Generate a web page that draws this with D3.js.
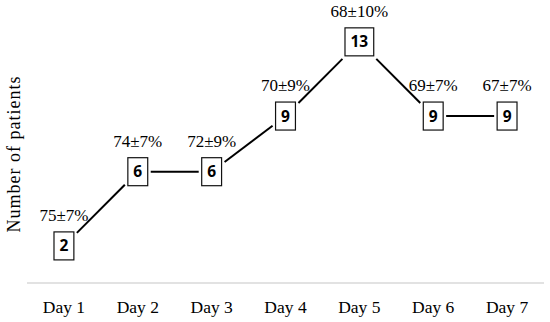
<html>
<head>
<style>
  body { margin: 0; background: #fff; }
  svg { display: block; }
</style>
<script src="https://d3js.org/d3.v7.min.js"></script>
</head>
<body>
<svg id="chart" width="550" height="322"></svg>
<script>
  // data
  const days = ["Day 1", "Day 2", "Day 3", "Day 4", "Day 5", "Day 6", "Day 7"];
  const patients = [2, 6, 6, 9, 13, 9, 9];
  const survival = ["75±7%", "74±7%", "72±9%", "70±9%", "68±10%", "69±7%", "67±7%"];

  const svg = d3.select('#chart');
  const serif = '"Liberation Serif", "Times New Roman", serif';

  const x = d3.scaleBand().domain(days).range([27, 544]);
  const y = d3.scaleLinear().domain([0, 14]).range([283, 283 - 14 * 18.55]);
  const cx = d => x(d) + x.bandwidth() / 2;

  // baseline
  svg.append('line')
    .attr('x1', 27).attr('x2', 544)
    .attr('y1', y(0)).attr('y2', y(0))
    .style('stroke', '#d9d9d9').style('stroke-width', 1.5);

  // category labels
  svg.selectAll('text.day')
    .data(days).enter().append('text')
    .attr('class', 'day')
    .attr('x', d => cx(d))
    .attr('y', 313)
    .attr('text-anchor', 'middle')
    .style('font-family', serif).style('font-size', '17.5px').style('fill', '#000')
    .text(d => d);

  // y axis title
  svg.append('text')
    .attr('transform', 'translate(20,154) rotate(-90)')
    .attr('text-anchor', 'middle')
    .style('font-family', serif).style('font-size', '18px').style('letter-spacing', '1px')
    .text('Number of patients');

  const pts = days.map((d, i) => ({ day: d, n: patients[i], lab: survival[i], x: cx(d), y: y(patients[i]) }));

  // box labels first so their widths are known
  const g = svg.append('g');
  const boxes = g.selectAll('g.pt').data(pts).enter().append('g').attr('class', 'pt');
  const rects = boxes.append('rect');
  const nums = boxes.append('text')
    .attr('x', d => d.x)
    .attr('y', d => d.y + 5.5)
    .attr('text-anchor', 'middle')
    .style('font-family', '"Open Sans", sans-serif').style('font-weight', 'bold').style('font-size', '15.5px')
    .text(d => d.n);
  nums.each(function(d) { d.hw = (this.getComputedTextLength() + 11) / 2; d.hh = 14; });
  rects
    .attr('x', d => d.x - d.hw).attr('y', d => d.y - d.hh)
    .attr('width', d => d.hw * 2).attr('height', d => d.hh * 2)
    .style('fill', '#fff').style('stroke', '#111').style('stroke-width', 1.2);

  // connecting segments, clipped at the boxes
  const gap = 3;
  function clip(p, q) {
    const dx = q.x - p.x, dy = q.y - p.y;
    const tx = dx === 0 ? Infinity : (p.hw + gap) / Math.abs(dx);
    const ty = dy === 0 ? Infinity : (p.hh + gap) / Math.abs(dy);
    const t = Math.min(tx, ty);
    return [p.x + t * dx, p.y + t * dy];
  }
  const segs = d3.pairs(pts).map(([a, b]) => [clip(a, b), clip(b, a)]);
  svg.insert('g', 'g').selectAll('line').data(segs).enter().append('line')
    .attr('x1', s => s[0][0]).attr('y1', s => s[0][1])
    .attr('x2', s => s[1][0]).attr('y2', s => s[1][1])
    .style('stroke', '#000').style('stroke-width', 2);

  // survival labels above boxes
  svg.selectAll('text.pct').data(pts).enter().append('text')
    .attr('class', 'pct')
    .attr('x', d => d.x)
    .attr('y', d => d.y - d.hh - 11)
    .attr('text-anchor', 'middle')
    .style('font-family', serif).style('font-size', '17px')
    .text(d => d.lab);
</script>
</body>
</html>
